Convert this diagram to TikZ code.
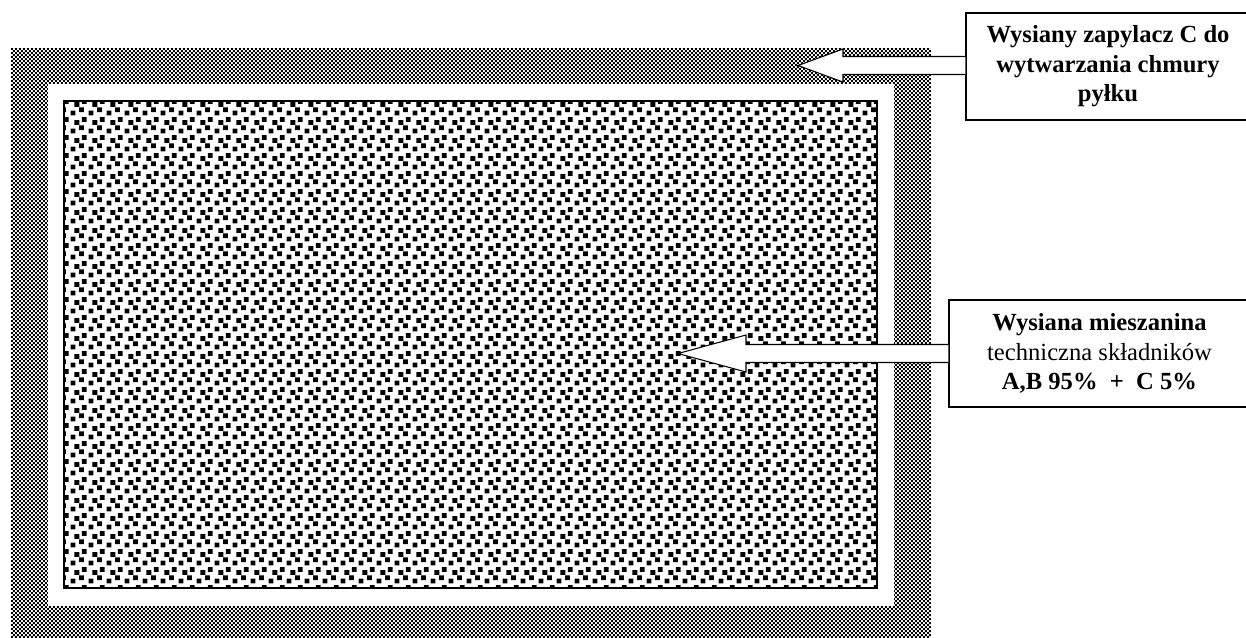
\documentclass[tikz,border=0pt]{standalone}
\usepackage{fontspec}
\setmainfont{Liberation Serif}
\usetikzlibrary{patterns, calc}

% fine checker for the pollinator layer, confetti for the mixture
\pgfdeclarepatternformonly{finecheck}{\pgfpointorigin}{\pgfpoint{2.276pt}{2.276pt}}{\pgfpoint{2.276pt}{2.276pt}}{%
  \pgfpathrectangle{\pgfpointorigin}{\pgfpoint{1.05pt}{1.05pt}}%
  \pgfpathrectangle{\pgfpoint{1.138pt}{1.138pt}}{\pgfpoint{1.05pt}{1.05pt}}%
  \pgfusepath{fill}}
\pgfdeclarepatternformonly{confetti}{\pgfpointorigin}{\pgfpoint{10pt}{10pt}}{\pgfpoint{10pt}{10pt}}{%
  \pgfpathrectangle{\pgfpoint{0.3pt}{0.3pt}}{\pgfpoint{2.8pt}{2.8pt}}%
  \pgfpathrectangle{\pgfpoint{5.3pt}{2.2pt}}{\pgfpoint{2.8pt}{2.8pt}}%
  \pgfpathrectangle{\pgfpoint{2.6pt}{5.3pt}}{\pgfpoint{2.8pt}{2.8pt}}%
  \pgfpathrectangle{\pgfpoint{6.9pt}{7.0pt}}{\pgfpoint{2.8pt}{2.8pt}}%
  \pgfusepath{fill}}

\begin{document}
\begin{tikzpicture}[
        x=0.02cm, y=-0.02cm,
        tagbox/.style={rectangle, draw, line width=0.8pt, fill=white, align=center, inner sep=0pt, minimum height=2.14cm, font=\fontsize{14}{16.8}\selectfont\bfseries},
        fatarrow/.style={draw, line width=0.6pt, fill=white, line join=miter}
    ]
        \useasboundingbox (0,0) rectangle (1246,637);
        \clip (0,0) rectangle (1246,637);

        % sown layers
        \fill[pattern=finecheck] (11,48) rectangle (931,660);
        \fill[white] (48,84) rectangle (894,606);
        \draw[line width=0.6pt, pattern=confetti] (64,101) rectangle (877,588);

        \node[tagbox, minimum width=5.68cm] (zapylacz)   at (1108,66.5)  {Wysiany zapylacz C do\\wytwarzania chmury\\pyłku};
        \node[tagbox, minimum width=6.02cm] (mieszanina) at (1099.5,353.5) {Wysiana mieszanina\\{\mdseries techniczna składników}\\A,B 95\%\ \ +\ \ C 5\%};

        \coordinate (tipC)  at (798,65.5);
        \coordinate (tipAB) at (678,353.5);

        \draw[fatarrow] ($(zapylacz.west |- tipC)+(0,-9)$) -- ($(tipC)+(45,-9)$) -- ($(tipC)+(45,-16.5)$) -- (tipC)
            -- ($(tipC)+(45,16.5)$) -- ($(tipC)+(45,9)$) -- ($(zapylacz.west |- tipC)+(0,9)$);
        \draw[fatarrow] ($(mieszanina.west)+(0,-9)$) -- ($(tipAB)+(68,-9)$) -- ($(tipAB)+(68,-18.5)$) -- (tipAB)
            -- ($(tipAB)+(68,18.5)$) -- ($(tipAB)+(68,9)$) -- ($(mieszanina.west)+(0,9)$);
    \end{tikzpicture}
\end{document}
